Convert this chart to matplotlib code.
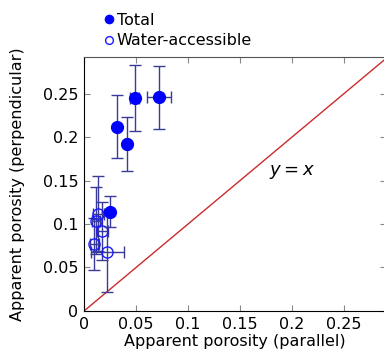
import matplotlib
matplotlib.use("Agg")
import matplotlib.pyplot as plt

# Total (filled)
tot_x = [0.0724, 0.0486, 0.0315, 0.0412, 0.0245]
tot_y = [0.2456, 0.2445, 0.2119, 0.1920, 0.1140]
tot_xerr = [0.0116, 0.004, 0.0, 0.002, 0.0]
tot_yerr = [0.036, 0.038, 0.036, 0.031, 0.018]

# Water-accessible (open)
wat_x = [0.0138, 0.0113, 0.0177, 0.0099, 0.0225]
wat_y = [0.112, 0.104, 0.092, 0.077, 0.068]
wat_xerr = [0.005, 0.004, 0.005, 0.004, 0.016]
wat_yerr = [0.043, 0.039, 0.033, 0.030, 0.046]

FS = 11.5

fig = plt.figure(figsize=(3.84, 3.57), dpi=100)
ax = fig.add_axes([0.219, 0.129, 0.785, 0.711])

ebc = '#3a3a99'
ax.errorbar(wat_x, wat_y, xerr=wat_xerr, yerr=wat_yerr, fmt='o', ms=8,
            mfc='none', mec='#1a1aff', mew=1.0, ecolor=ebc, elinewidth=1,
            capsize=4, capthick=1, label='Water-accessible', zorder=3)
ax.errorbar(tot_x, tot_y, xerr=tot_xerr, yerr=tot_yerr, fmt='o', ms=8.5,
            color='#0000ff', ecolor=ebc, elinewidth=1, capsize=4,
            capthick=1, label='Total', zorder=4)

ax.plot([0, 0.3], [0, 0.3], color='#cc2a2a', lw=1, zorder=2)
ax.text(0.2, 0.16, '$y = x$', fontsize=13, ha='center', va='center')

ax.set_xlim(0, 0.29)
ax.set_ylim(0, 0.292)
ax.set_xticks([0, 0.05, 0.1, 0.15, 0.2, 0.25])
ax.set_yticks([0, 0.05, 0.1, 0.15, 0.2, 0.25])
ax.set_xticklabels(['0', '0.05', '0.1', '0.15', '0.2', '0.25'])
ax.set_yticklabels(['0', '0.05', '0.1', '0.15', '0.2', '0.25'])
ax.tick_params(direction='in', top=True, right=True, labelsize=FS,
               length=4, color='#888888', pad=4)
for s in ax.spines.values():
    s.set_color('#555555')
ax.spines['left'].set_color('k')
ax.spines['bottom'].set_color('k')

ax.set_xlabel('Apparent porosity (parallel)', fontsize=FS, labelpad=2)
ax.set_ylabel('Apparent porosity (perpendicular)', fontsize=FS, labelpad=13)

h, l = ax.get_legend_handles_labels()
leg = fig.legend([h[1][0], h[0][0]], [l[1], l[0]], loc='upper left',
                 bbox_to_anchor=(0.237, 1.0), frameon=False, fontsize=FS,
                 handlelength=0.6, handletextpad=0.2, markerscale=0.7,
                 labelspacing=0.35, borderpad=0.3)

fig.savefig('out.png', dpi=100)
